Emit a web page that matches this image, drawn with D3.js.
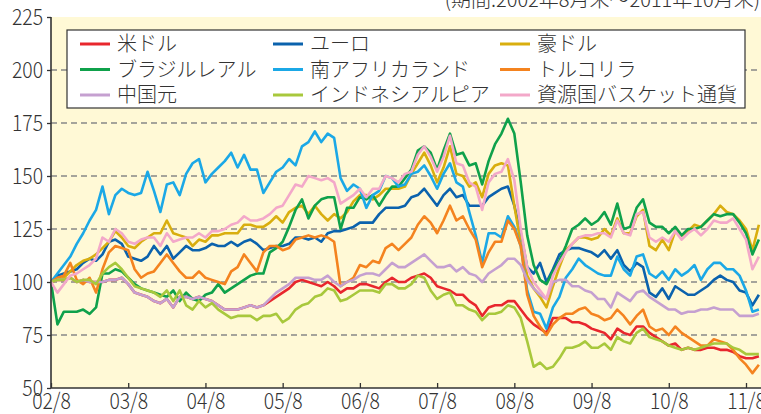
<!DOCTYPE html>
<html>
<head>
<meta charset="utf-8">
<script src="https://cdn.jsdelivr.net/npm/d3@7"></script>
<style>
  body { margin: 0; background: #fff; }
  svg text { font-family: "Noto Sans CJK JP", "Noto Sans", sans-serif; font-weight: 300; fill: #333; }
</style>
</head>
<body>
<div id="chart"></div>
<script>
// monthly index values, 2002/8 = 100 (month 0 = 2002/8, last = 2011/10)
const usd = [
  100,101,101,102,100,101,100,100,100,101,
  101,102,99,95,94,93,91,90,92,88,
  93,93,92,93,92,91,89,87,87,87,
  88,89,88,89,91,93,95,97,100,101,
  100,99,98,100,98,95,97,97,99,99,
  98,97,100,102,100,100,102,103,104,102,
  98,97,96,94,94,91,89,84,88,89,
  89,91,91,87,83,80,78,76,83,83,
  83,81,81,80,78,77,76,73,78,76,
  75,79,79,76,74,72,70,71,68,69,
  68,68,69,69,68,68,67,65,64,64,
  65];
const eur = [
  100,103,104,105,106,109,111,110,113,119,
  120,118,112,111,110,112,117,113,117,111,
  114,117,115,115,116,118,117,117,119,117,
  119,120,118,115,116,117,117,118,121,121,
  120,121,119,123,124,124,125,126,128,128,
  128,132,135,135,135,136,140,141,144,140,
  136,141,144,140,141,136,136,136,140,142,
  144,145,136,123,107,104,109,100,106,113,
  115,116,116,115,114,112,115,111,115,108,
  105,109,107,95,93,97,92,98,96,94,
  94,96,98,101,103,101,100,96,95,89,
  94];
const aud = [
  100,101,102,105,108,110,111,113,116,119,
  124,121,117,116,119,121,123,123,129,123,
  122,121,117,120,119,122,122,123,123,123,
  127,127,126,126,128,131,128,133,135,136,
  132,136,132,129,132,130,133,138,141,141,
  139,141,144,144,144,145,151,156,161,155,
  147,154,164,151,150,145,147,140,151,155,
  156,155,136,118,103,97,93,88,98,107,
  115,118,121,121,120,121,125,122,130,123,
  123,131,134,117,115,120,115,124,122,124,
  127,126,129,132,136,133,132,129,125,115,
  127];
const brl = [
  100,80,86,86,86,87,85,88,104,104,
  106,105,102,99,97,96,95,94,93,96,
  91,95,92,91,94,95,99,95,97,99,
  101,103,104,104,114,116,119,126,134,139,
  130,136,139,140,140,125,135,135,140,139,
  141,136,141,145,145,149,153,162,164,161,
  153,162,170,160,161,155,156,146,157,165,
  170,177,170,147,122,108,101,99,105,110,
  117,125,127,130,127,129,133,127,137,125,
  126,135,139,128,126,126,123,126,122,125,
  125,126,129,132,131,132,132,128,123,113,
  120];
const zar = [
  100,104,108,112,118,123,129,134,145,132,
  141,144,142,141,142,152,143,133,146,147,
  141,151,156,158,147,151,154,157,161,154,
  160,153,153,142,147,152,154,158,155,164,
  166,171,166,170,168,149,143,146,144,135,
  141,143,150,149,145,146,151,152,155,150,
  144,151,156,147,145,133,122,109,123,123,
  121,131,126,117,96,86,85,78,88,93,
  102,106,111,108,106,104,103,103,112,106,
  103,112,113,104,102,105,101,106,103,105,
  108,101,106,109,109,106,106,103,96,86,
  87];
const tryLira = [
  100,102,103,109,101,99,102,95,106,114,
  117,116,115,106,102,104,105,109,113,109,
  105,102,102,105,102,101,100,99,105,107,
  113,109,105,114,117,117,115,116,120,121,
  122,121,122,121,119,98,100,102,108,107,
  110,109,116,118,115,118,121,127,131,128,
  123,129,136,129,131,125,120,107,114,119,
  119,129,125,117,94,84,79,75,80,83,
  85,85,87,88,85,84,82,83,87,84,
  80,84,87,79,77,78,75,79,76,74,
  72,70,70,73,72,71,68,64,61,57,
  61];
const cny = [
  100,101,101,102,100,101,100,100,100,101,
  101,102,99,95,94,93,91,90,92,88,
  93,93,92,93,92,91,89,87,87,87,
  88,89,88,89,92,95,97,99,102,102,
  102,101,101,103,100,98,100,101,103,104,
  104,103,106,109,107,107,109,111,113,110,
  107,107,108,105,107,104,103,100,104,106,
  108,111,111,108,101,97,94,92,100,101,
  101,98,98,96,95,92,92,88,95,93,
  91,95,96,93,91,89,87,87,85,86,
  86,87,87,88,87,87,87,84,84,84,
  85];
const idr = [
  100,101,101,102,100,101,101,99,104,107,
  109,106,102,98,97,96,95,93,96,91,
  96,89,87,91,88,90,87,85,83,84,
  84,84,82,84,84,85,81,83,87,89,
  90,93,94,97,96,91,92,94,96,96,
  96,95,99,99,97,97,99,103,102,96,
  92,94,95,89,89,87,86,82,85,85,
  86,89,88,83,72,60,62,59,60,64,
  69,69,70,72,69,69,71,68,74,72,
  71,76,78,74,73,72,70,69,68,69,
  68,69,70,71,71,71,69,68,66,66,
  66];
const basket = [
  100,95,99,103,104,106,108,111,121,119,
  125,123,119,118,120,121,121,117,123,119,
  120,121,121,123,121,124,124,125,127,128,
  131,129,129,130,132,135,136,141,146,145,
  150,149,148,149,147,137,139,141,144,140,
  144,144,150,149,147,151,152,160,164,159,
  152,159,169,156,155,147,145,134,147,151,
  152,158,148,125,107,100,96,92,103,109,
  114,118,121,122,122,123,123,121,129,123,
  122,132,133,121,119,121,119,124,120,123,
  125,122,125,129,128,128,130,125,120,106,
  112];

const seriesNames = ["米ドル", "ユーロ", "豪ドル", "ブラジルレアル", "南アフリカランド", "トルコリラ", "中国元", "インドネシアルピア", "資源国バスケット通貨"];
const seriesValues = [usd, eur, aud, brl, zar, tryLira, cny, idr, basket];
const seriesColors = ["#e8262d", "#0b62ad", "#d9ae0e", "#0fa14b", "#1ba8e6", "#f4831f", "#c5a0d0", "#a8c83c", "#f3a8c9"];

const xTickIndex = [0, 12, 24, 36, 48, 60, 72, 84, 96, 108];
const xTickLabels = ["02/8", "03/8", "04/8", "05/8", "06/8", "07/8", "08/8", "09/8", "10/8", "11/8"];
const yTicks = [50, 75, 100, 125, 150, 175, 200, 225];
const gridValues = [75, 100, 125, 150, 175, 200];
const periodNote = "(期間:2002年8月末～2011年10月末)";

const W = 761, H = 414;
const plot = { left: 51, right: 761, top: 17, bottom: 388 };
const numScale = 0.88; // tick digits in the original are narrow

const svg = d3.select("#chart").append("svg")
  .attr("width", W)
  .attr("height", H);

const x = d3.scaleLinear().domain([0, 108]).range([plot.left, 746]);
const y = d3.scaleLinear().domain([50, 225]).range([plot.bottom, plot.top]);

// period note, mostly cut off at the top edge
svg.append("text")
  .attr("x", 760)
  .attr("y", 7)
  .attr("text-anchor", "end")
  .style("font-size", "20px")
  .text(periodNote);

svg.append("rect")
  .attr("x", plot.left)
  .attr("y", plot.top)
  .attr("width", plot.right - plot.left)
  .attr("height", plot.bottom - plot.top)
  .attr("fill", "#fff9d6");

svg.append("g")
  .selectAll("line")
  .data(gridValues)
  .enter().append("line")
    .attr("x1", plot.left)
    .attr("x2", plot.right)
    .attr("y1", d => y(d))
    .attr("y2", d => y(d))
    .attr("stroke", "#888")
    .attr("stroke-width", 1.5)
    .attr("stroke-dasharray", "6,4");

const line = d3.line()
  .x((d, i) => x(i))
  .y(d => y(d));

svg.append("g")
  .selectAll("path")
  .data(seriesValues)
  .enter().append("path")
    .attr("fill", "none")
    .attr("stroke", (d, i) => seriesColors[i])
    .attr("stroke-width", 2.6)
    .attr("stroke-linejoin", "round")
    .attr("d", line);

// axes
const yAxis = svg.append("g")
  .attr("transform", "translate(" + plot.left + ",0)")
  .call(d3.axisLeft(y).tickValues(yTicks).tickSize(4).tickPadding(4));
yAxis.select(".domain").remove();
yAxis.selectAll(".tick line").attr("stroke", "#333").attr("stroke-width", 1.3);
yAxis.selectAll(".tick text")
  .style("font-size", "22px")
  .attr("x", -8 / numScale)
  .attr("transform", "scale(" + numScale + ",1)");

const xAxis = svg.append("g")
  .attr("transform", "translate(0," + plot.bottom + ")")
  .call(d3.axisBottom(x).tickValues(xTickIndex).tickSize(-5).tickPadding(5)
    .tickFormat((d, i) => xTickLabels[i]));
xAxis.select(".domain").remove();
xAxis.selectAll(".tick line").attr("stroke", "#333").attr("stroke-width", 1.3);
xAxis.selectAll(".tick text")
  .style("font-size", "22px")
  .attr("transform", "scale(" + numScale + ",1)");

svg.append("line")
  .attr("x1", plot.left).attr("x2", plot.left)
  .attr("y1", plot.top).attr("y2", plot.bottom)
  .attr("stroke", "#333").attr("stroke-width", 1.6);
svg.append("line")
  .attr("x1", plot.left).attr("x2", plot.right)
  .attr("y1", plot.bottom).attr("y2", plot.bottom)
  .attr("stroke", "#333").attr("stroke-width", 1.6);

// legend
const legend = svg.append("g");
legend.append("rect")
  .attr("x", 67).attr("y", 30)
  .attr("width", 678).attr("height", 78)
  .attr("fill", "#fff")
  .attr("stroke", "#333")
  .attr("stroke-width", 1.2);

const colX = [80, 273, 500];
const rowY = [44, 69.5, 95];
const item = legend.selectAll(".item")
  .data(seriesNames)
  .enter().append("g")
    .attr("class", "item")
    .attr("transform", (d, i) => "translate(" + colX[i % 3] + "," + rowY[Math.floor(i / 3)] + ")");
item.append("line")
  .attr("x1", 0).attr("x2", 30)
  .attr("stroke", (d, i) => seriesColors[i])
  .attr("stroke-width", 3);
item.append("text")
  .attr("x", 37)
  .attr("dy", "0.36em")
  .style("font-size", "20px")
  .text(d => d);
</script>
</body>
</html>
